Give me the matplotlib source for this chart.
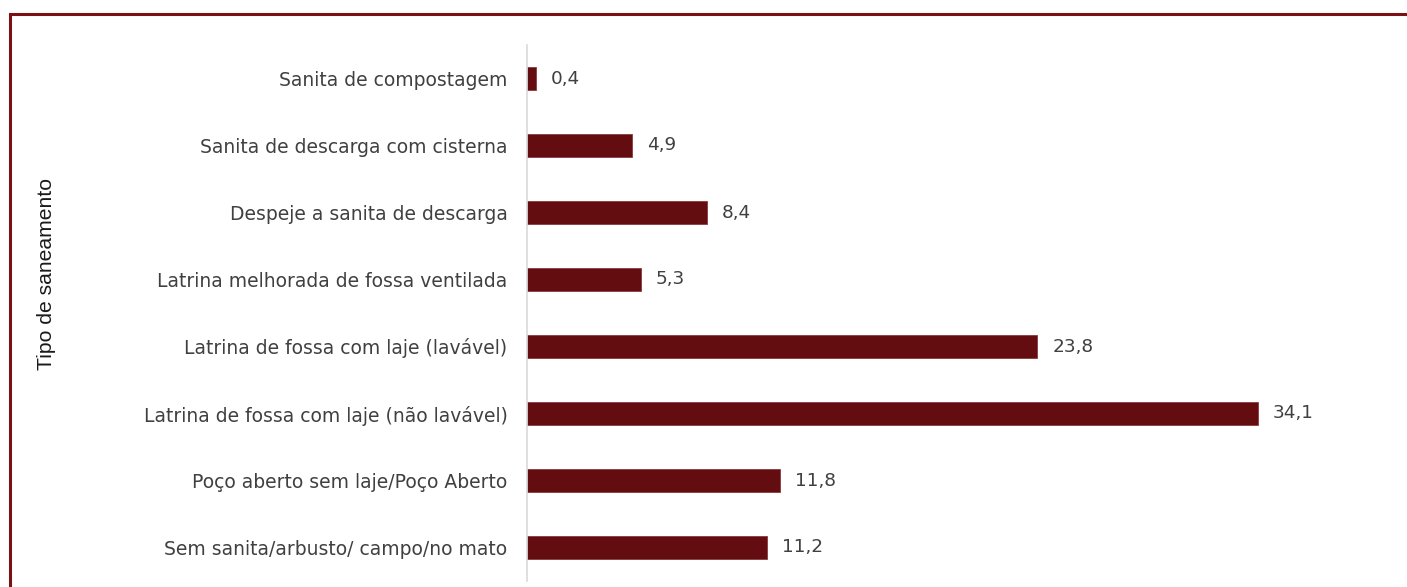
import matplotlib
matplotlib.use("Agg")
import matplotlib.pyplot as plt
from matplotlib.patches import Rectangle

categories = [
    "Sanita de compostagem",
    "Sanita de descarga com cisterna",
    "Despeje a sanita de descarga",
    "Latrina melhorada de fossa ventilada",
    "Latrina de fossa com laje (lavável)",
    "Latrina de fossa com laje (não lavável)",
    "Poço aberto sem laje/Poço Aberto",
    "Sem sanita/arbusto/ campo/no mato",
]
values = [0.4, 4.9, 8.4, 5.3, 23.8, 34.1, 11.8, 11.2]
ylabel = "Tipo de saneamento"

W, H = 1407, 587
fig = plt.figure(figsize=(W / 100, H / 100), dpi=100)
plt.rcParams['font.family'] = ['DejaVu Sans']

# axes: left x=527, top y=45, bottom y=581
ax_left, ax_right = 527, 527 + 40 * 21.44
ax_top, ax_bot = 45, 581
ax = fig.add_axes([ax_left / W, 1 - ax_bot / H, (ax_right - ax_left) / W, (ax_bot - ax_top) / H])

bar_color = "#630D10"
ypos = list(range(len(categories)))
ax.barh(ypos, values, height=0.33, color=bar_color, edgecolor="#8a3a3c", linewidth=0.6)
ax.set_ylim(len(categories) - 0.5, -0.5)
ax.set_xlim(0, 40)

for y, v in zip(ypos, values):
    ax.text(v + 0.7, y, f"{v:.1f}".replace(".", ","), va="center", ha="left",
            fontsize=13.3, color="#404040")

ax.set_yticks(ypos)
ax.set_yticklabels(categories, fontsize=13.5, color="#404040")
ax.tick_params(axis="y", length=0, pad=14)
ax.set_xticks([])
for s in ["top", "right", "bottom"]:
    ax.spines[s].set_visible(False)
ax.spines["left"].set_color("#d9d9d9")
ax.spines["left"].set_linewidth(1.2)

fig.text(47 / W, 1 - 274 / H, ylabel, rotation=90, ha="center", va="center",
         fontsize=15.2, color="#1a1a1a", family=["Liberation Sans", "DejaVu Sans"])

# outer border (clipped on right and bottom)
fig.patches.append(Rectangle((10 / W, -0.1), 1.2, 1 - 14 / H + 0.1, transform=fig.transFigure,
                             fill=False, edgecolor="#7B1113", linewidth=2.2))

fig.savefig("out.png", dpi=100)
